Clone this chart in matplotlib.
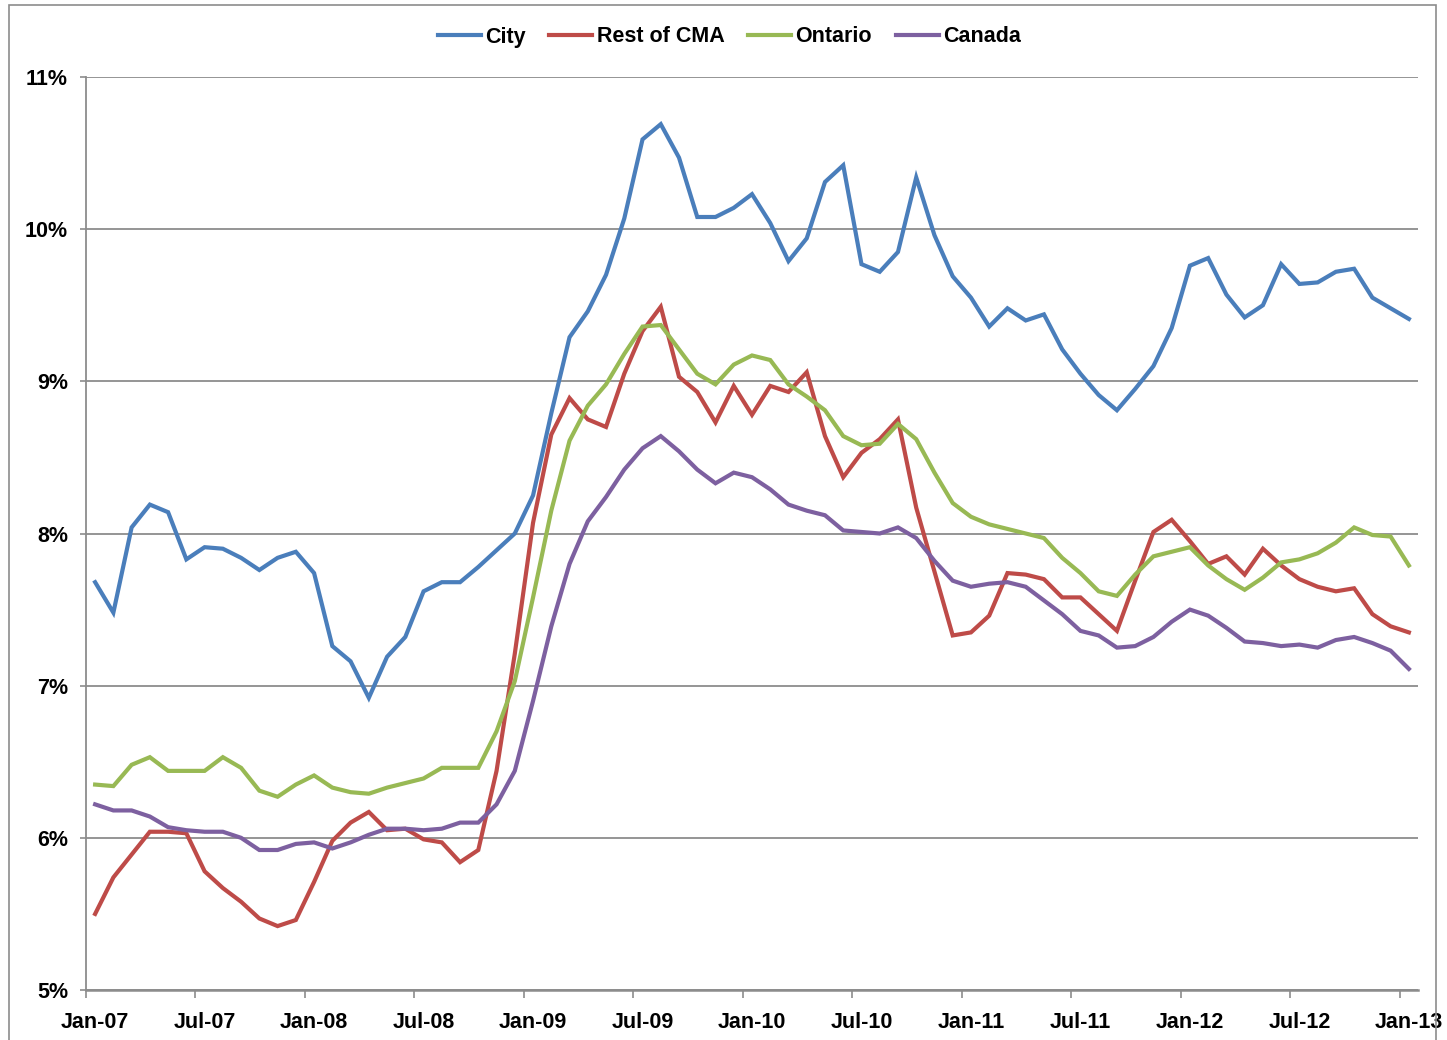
import numpy as np
import matplotlib
matplotlib.use("Agg")
import matplotlib.pyplot as plt
from matplotlib.patches import Rectangle

# Monthly unemployment rate (%), Jan-07 .. Jan-13
city = [7.68, 7.48, 8.04, 8.19, 8.14, 7.83, 7.91, 7.90, 7.84, 7.76, 7.84, 7.88,
        7.74, 7.26, 7.16, 6.92, 7.19, 7.32, 7.62, 7.68, 7.68, 7.78, 7.89, 8.00,
        8.25, 8.79, 9.29, 9.46, 9.70, 10.07, 10.59, 10.69, 10.47, 10.08, 10.08, 10.14,
        10.23, 10.04, 9.79, 9.94, 10.31, 10.42, 9.77, 9.72, 9.85, 10.34, 9.96, 9.69,
        9.55, 9.36, 9.48, 9.40, 9.44, 9.21, 9.05, 8.91, 8.81, 8.95, 9.10, 9.35,
        9.76, 9.81, 9.57, 9.42, 9.50, 9.77, 9.64, 9.65, 9.72, 9.74, 9.55, 9.48, 9.41]
rest_cma = [5.50, 5.74, 5.89, 6.04, 6.04, 6.03, 5.78, 5.67, 5.58, 5.47, 5.42, 5.46,
            5.71, 5.98, 6.10, 6.17, 6.05, 6.06, 5.99, 5.97, 5.84, 5.92, 6.44, 7.21,
            8.07, 8.65, 8.89, 8.75, 8.70, 9.05, 9.33, 9.49, 9.03, 8.93, 8.73, 8.97,
            8.78, 8.97, 8.93, 9.06, 8.64, 8.37, 8.53, 8.62, 8.75, 8.17, 7.75, 7.33,
            7.35, 7.46, 7.74, 7.73, 7.70, 7.58, 7.58, 7.47, 7.36, 7.69, 8.01, 8.09,
            7.95, 7.80, 7.85, 7.73, 7.90, 7.79, 7.70, 7.65, 7.62, 7.64, 7.47, 7.39, 7.35]
ontario = [6.35, 6.34, 6.48, 6.53, 6.44, 6.44, 6.44, 6.53, 6.46, 6.31, 6.27, 6.35,
           6.41, 6.33, 6.30, 6.29, 6.33, 6.36, 6.39, 6.46, 6.46, 6.46, 6.70, 7.03,
           7.58, 8.15, 8.61, 8.84, 8.98, 9.18, 9.36, 9.37, 9.21, 9.05, 8.98, 9.11,
           9.17, 9.14, 8.98, 8.90, 8.81, 8.64, 8.58, 8.59, 8.72, 8.62, 8.40, 8.20,
           8.11, 8.06, 8.03, 8.00, 7.97, 7.84, 7.74, 7.62, 7.59, 7.73, 7.85, 7.88,
           7.91, 7.79, 7.70, 7.63, 7.71, 7.81, 7.83, 7.87, 7.94, 8.04, 7.99, 7.98, 7.79]
canada = [6.22, 6.18, 6.18, 6.14, 6.07, 6.05, 6.04, 6.04, 6.00, 5.92, 5.92, 5.96,
          5.97, 5.93, 5.97, 6.02, 6.06, 6.06, 6.05, 6.06, 6.10, 6.10, 6.22, 6.44,
          6.90, 7.39, 7.80, 8.08, 8.24, 8.42, 8.56, 8.64, 8.54, 8.42, 8.33, 8.40,
          8.37, 8.29, 8.19, 8.15, 8.12, 8.02, 8.01, 8.00, 8.04, 7.97, 7.82, 7.69,
          7.65, 7.67, 7.68, 7.65, 7.56, 7.47, 7.36, 7.33, 7.25, 7.26, 7.32, 7.42,
          7.50, 7.46, 7.38, 7.29, 7.28, 7.26, 7.27, 7.25, 7.30, 7.32, 7.28, 7.23, 7.11]

tick_labels = ["Jan-07", "Jul-07", "Jan-08", "Jul-08", "Jan-09", "Jul-09", "Jan-10",
               "Jul-10", "Jan-11", "Jul-11", "Jan-12", "Jul-12", "Jan-13"]
y_ticks = [5, 6, 7, 8, 9, 10, 11]

series = [("City", city, "#4A7EBB"),
          ("Rest of CMA", rest_cma, "#BE4B48"),
          ("Ontario", ontario, "#98B954"),
          ("Canada", canada, "#7D60A0")]

plt.rcParams["font.family"] = ["Liberation Sans", "DejaVu Sans"]
plt.rcParams["font.weight"] = "bold"
FS = 15.5

fig = plt.figure(figsize=(14.47, 10.4), dpi=100)
ax = fig.add_axes([86 / 1447, 1 - 990 / 1040, (1418 - 86) / 1447, (990 - 77) / 1040])

# outer chart frame
fig.patches.append(Rectangle((9 / 1447, -0.05), (1436 - 9) / 1447, 1.05 - 5 / 1040,
                             transform=fig.transFigure, fill=False,
                             edgecolor="#8c8c8c", linewidth=1.2))

x = np.arange(len(city))
for name, vals, color in series:
    ax.plot(x, vals, color=color, linewidth=3.0, label=name, solid_joinstyle="miter")

ax.set_xlim(-0.5, len(city) - 0.5)
ax.set_ylim(5, 11)

# labels in the middle of each month slot, tick marks on slot edges
ax.set_xticks(x[::6])
ax.set_xticklabels(tick_labels, fontsize=FS, fontweight="bold")
ax.set_xticks(np.arange(-0.5, len(city), 6), minor=True)
ax.tick_params(axis="x", which="major", length=0, pad=16)
ax.tick_params(axis="x", which="minor", length=6, width=1.2, color="#8c8c8c")

ax.set_yticks(y_ticks)
ax.set_yticklabels([f"{v}%" for v in y_ticks], fontsize=FS, fontweight="bold")
ax.tick_params(axis="y", length=4, width=1.2, color="#8c8c8c", pad=9)

ax.grid(axis="y", color="#8c8c8c", linewidth=1.3)
ax.set_axisbelow(True)
for side in ["top", "right"]:
    ax.spines[side].set_visible(False)
ax.spines["left"].set_color("#8c8c8c")
ax.spines["left"].set_linewidth(1.3)
ax.spines["bottom"].set_color("#8c8c8c")
ax.spines["bottom"].set_linewidth(1.8)

fig.legend(loc="center", bbox_to_anchor=(0.504, 1 - 37 / 1040), ncol=4,
           frameon=False, fontsize=FS, handlelength=2.0, handletextpad=0.2,
           columnspacing=1.1, borderpad=0)

fig.savefig("out.png", dpi=100)
plt.close(fig)
